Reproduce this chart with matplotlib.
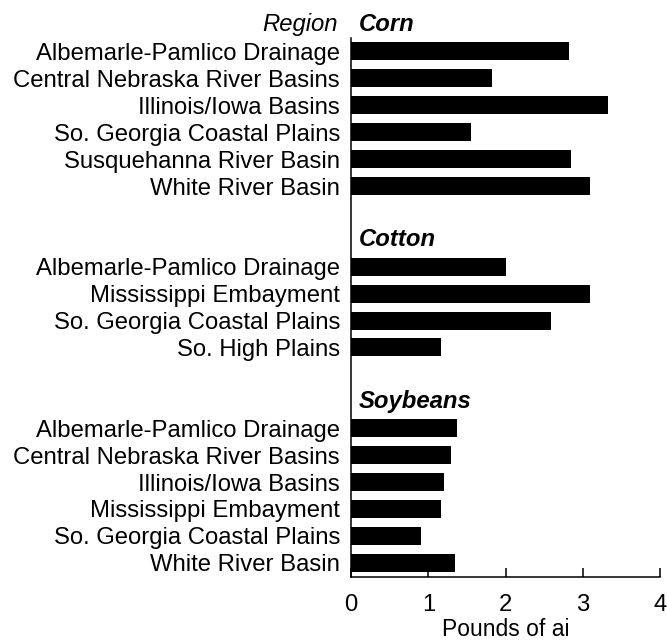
import matplotlib.pyplot as plt

plt.rcParams['font.family'] = ['Liberation Sans', 'DejaVu Sans']

# Pounds of active ingredient per acre, by crop and region
corn_regions = ["Albemarle-Pamlico Drainage", "Central Nebraska River Basins",
                "Illinois/Iowa Basins", "So. Georgia Coastal Plains",
                "Susquehanna River Basin", "White River Basin"]
corn_values = [2.82, 1.82, 3.33, 1.55, 2.85, 3.09]

cotton_regions = ["Albemarle-Pamlico Drainage", "Mississippi Embayment",
                  "So. Georgia Coastal Plains", "So. High Plains"]
cotton_values = [2.01, 3.10, 2.59, 1.16]

soy_regions = ["Albemarle-Pamlico Drainage", "Central Nebraska River Basins",
               "Illinois/Iowa Basins", "Mississippi Embayment",
               "So. Georgia Coastal Plains", "White River Basin"]
soy_values = [1.37, 1.29, 1.21, 1.17, 0.91, 1.35]

groups = [("Corn", corn_regions, corn_values),
          ("Cotton", cotton_regions, cotton_values),
          ("Soybeans", soy_regions, soy_values)]

xticks = [0, 1, 2, 3, 4]

fig = plt.figure(figsize=(6.67, 6.44), dpi=100)
ax = fig.add_axes([351 / 667, 1 - 577 / 644, 309 / 667, 539 / 644])

fs = 17.2
pos = 0
ypos, labels, vals, headers = [], [], [], []
for i, (crop, regs, v) in enumerate(groups):
    if i > 0:
        pos += 1  # blank row between groups
    headers.append((crop, pos - 1))
    for r, val in zip(regs, v):
        ypos.append(pos)
        labels.append(r)
        vals.append(val)
        pos += 1
    pos += 1  # row for next header

ax.barh(ypos, vals, height=0.67, color="black")
ax.set_yticks(ypos)
ax.set_yticklabels(labels, fontsize=fs)
ax.tick_params(axis="y", length=0, pad=8)

ax.set_xlim(0, 4)
ax.set_ylim(ypos[-1] + 0.53, -0.5)
ax.set_xticks(xticks)
ax.set_xticklabels([str(t) for t in xticks], fontsize=fs)
ax.tick_params(axis="x", direction="in", length=6.5, width=1.1, pad=12)
ax.set_xlabel("Pounds of ai", fontsize=16.5, labelpad=2)

for side in ["top", "right"]:
    ax.spines[side].set_visible(False)
for side in ["left", "bottom"]:
    ax.spines[side].set_linewidth(1.1)

for crop, y in headers:
    ax.text(0.1, y, crop, fontsize=fs, fontweight="bold", fontstyle="italic",
            ha="left", va="center", clip_on=False)

ax.text(-0.17, -1, "Region", fontsize=fs, fontstyle="italic",
        ha="right", va="center", clip_on=False)

fig.savefig("out.png", dpi=100)
